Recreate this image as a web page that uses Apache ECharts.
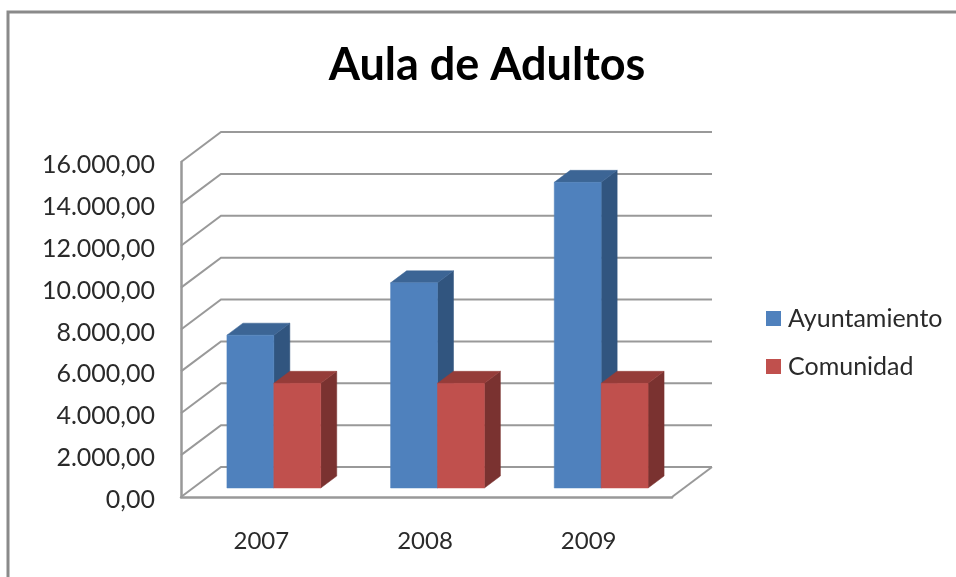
<!DOCTYPE html>
<html><head><meta charset="utf-8">
<style>html,body{margin:0;padding:0;background:#fff}#c{width:956px;height:577px}</style>
<script src="https://cdn.jsdelivr.net/npm/echarts@6/dist/echarts.min.js"></script></head>
<body><div id="c"></div>
<script>
const titleText = 'Aula de Adultos';
const categories = ['2007', '2008', '2009'];
const ayuntamiento = [7300, 9800, 14600];
const comunidad = [5000, 5000, 5000];
const tickValues = [0, 2000, 4000, 6000, 8000, 10000, 12000, 14000, 16000];

const FONT = 'Lato';
const WALL = [40, -30];         // depth of the chart box
const BAR_OFFSET = [11, -9];    // bar front plane relative to box front
const BAR_DEPTH = [16, -12];
const BAR_FRACTION = 47 / 164;
const LINE = '#999999';
const TEXT = '#2a2a2a';

function fmt(v) {
  return v.toFixed(0).replace(/\B(?=(\d{3})+$)/g, '.') + ',00';
}
function poly(points, fill) {
  return { type: 'polygon', shape: { points }, style: { fill, stroke: fill, lineWidth: 0.5 } };
}
function barRenderer(side, front, top, dark) {
  return function (params, api) {
    const c = api.coord([api.value(0), 0]);
    const t = api.coord([api.value(0), api.value(1)]);
    const w = api.size([1, 0])[0] * BAR_FRACTION;
    const x0 = c[0] + BAR_OFFSET[0] + (side < 0 ? -w : 0);
    const x1 = x0 + w;
    const yb = c[1] + BAR_OFFSET[1];
    const yt = t[1] + BAR_OFFSET[1];
    const dx = BAR_DEPTH[0], dy = BAR_DEPTH[1];
    return { type: 'group', children: [
      poly([[x1, yt], [x1 + dx, yt + dy], [x1 + dx, yb + dy], [x1, yb]], dark),
      poly([[x0, yt], [x0 + dx, yt + dy], [x1 + dx, yt + dy], [x1, yt]], top),
      poly([[x0, yt], [x1, yt], [x1, yb], [x0, yb]], front)
    ] };
  };
}
function wallRenderer(params, api) {
  const g = params.coordSys;
  const y = api.coord([0, api.value(0)])[1];
  const x = g.x, r = g.x + g.width;
  const children = [{
    type: 'polyline',
    shape: { points: [[x, y], [x + WALL[0], y + WALL[1]], [r + WALL[0], y + WALL[1]]] },
    style: { stroke: LINE, lineWidth: 2, fill: null }
  }];
  if (api.value(0) === 0) {
    children.push({
      type: 'line',
      shape: { x1: r, y1: y, x2: r + WALL[0], y2: y + WALL[1] },
      style: { stroke: LINE, lineWidth: 2 }
    });
  }
  return { type: 'group', children };
}

const chart = echarts.init(document.getElementById('c'), null, { renderer: 'canvas' });
chart.setOption({
  animation: false,
  backgroundColor: '#fff',
  title: {
    text: titleText, left: 482, top: 38, textAlign: 'center',
    textStyle: { fontFamily: FONT, fontWeight: 'bold', fontSize: 45, color: '#000' }
  },
  legend: {
    orient: 'vertical', left: 761, top: 301, itemWidth: 15, itemHeight: 15, itemGap: 23,
    icon: 'rect', data: ['Ayuntamiento', 'Comunidad'],
    textStyle: { fontFamily: FONT, fontSize: 25, color: TEXT, padding: [0, 0, 0, 2] }
  },
  grid: { left: 181, top: 162, width: 491, height: 335 },
  xAxis: {
    type: 'category', data: categories,
    axisLine: { lineStyle: { color: LINE, width: 2.5 } },
    axisTick: { show: false },
    axisLabel: { fontFamily: FONT, fontSize: 24, color: TEXT, margin: 32, padding: [0, 3, 0, 0] }
  },
  yAxis: {
    type: 'value', min: 0, max: 16000, interval: 2000,
    axisLine: { show: true, lineStyle: { color: LINE, width: 2.5 } },
    axisTick: { show: false },
    splitLine: { show: false },
    axisLabel: { fontFamily: FONT, fontSize: 25, color: TEXT, margin: 26, verticalAlign: 'top', lineHeight: 6, formatter: fmt }
  },
  graphic: [{
    type: 'polyline', silent: true,
    shape: { points: [[8, 577], [8, 12], [956, 12]] },
    style: { stroke: '#8a8a8a', lineWidth: 3, fill: null }
  }],
  series: [
    {
      type: 'custom', name: 'walls', coordinateSystem: 'cartesian2d', clip: false, z: 1,
      renderItem: wallRenderer, encode: { y: 0 }, data: tickValues.map(v => [v])
    },
    {
      type: 'custom', name: 'Ayuntamiento', coordinateSystem: 'cartesian2d', clip: false, z: 2,
      itemStyle: { color: '#4F81BD' }, encode: { x: 0, y: 1 },
      renderItem: barRenderer(-1, '#4F81BD', '#3C6595', '#31557F'),
      data: categories.map((c, i) => [i, ayuntamiento[i]])
    },
    {
      type: 'custom', name: 'Comunidad', coordinateSystem: 'cartesian2d', clip: false, z: 3,
      itemStyle: { color: '#C0504D' }, encode: { x: 0, y: 1 },
      renderItem: barRenderer(1, '#C0504D', '#953C39', '#7A3230'),
      data: categories.map((c, i) => [i, comunidad[i]])
    }
  ]
});
</script></body></html>
